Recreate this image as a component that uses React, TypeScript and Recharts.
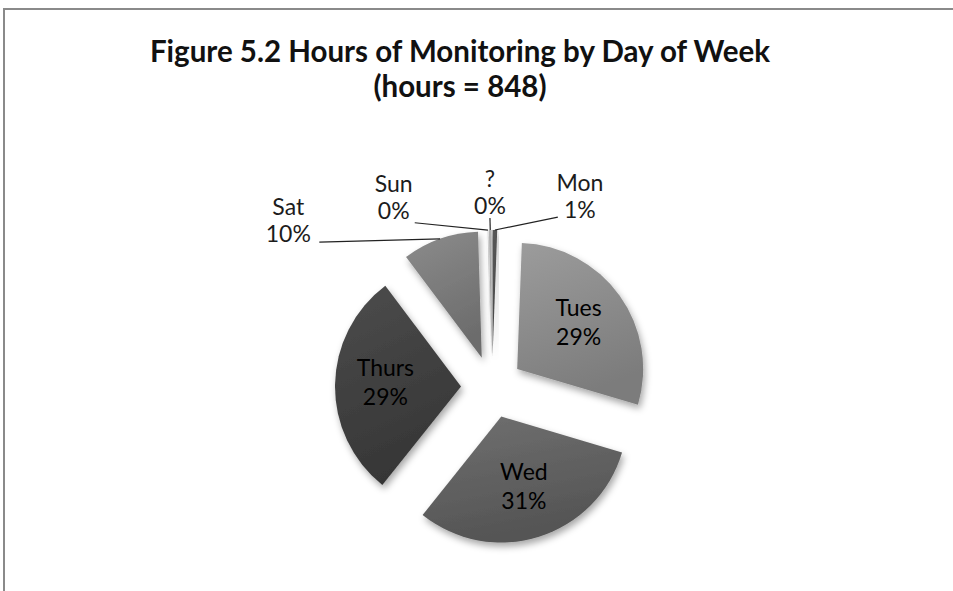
import { PieChart, Pie, Cell, Sector } from 'recharts'

// hours of monitoring per day (total 848), clockwise from 12 o'clock
const DAYS = ['Mon', 'Tues', 'Wed', 'Thurs', 'Sat', 'Sun', '?']
const HOURS = [5, 246, 264, 246, 83, 1, 3]
const TOTAL_HOURS = 848

const TITLE = 'Figure 5.2 Hours of Monitoring by Day of Week'
const SUBTITLE = `(hours = ${TOTAL_HOURS})`

// top / bottom stop of each slice gradient
const SHADES: Record<string, [string, string]> = {
  Mon: ['#5a5a5a', '#444444'],
  Tues: ['#9c9c9c', '#7c7c7c'],
  Wed: ['#707070', '#545454'],
  Thurs: ['#4c4c4c', '#363636'],
  Sat: ['#8c8c8c', '#6c6c6c'],
  Sun: ['#d4d4d4', '#c0c0c0'],
  '?': ['#b4b4b4', '#9a9a9a'],
}

// labels outside the pie: angle clockwise from top, distance from centre, leader hook
const OUTSIDE: Record<string, { angle: number; dist: number; hook: [number, number] }> = {
  Sat: { angle: 309.5, dist: 264, hook: [31, 23] },
  Sun: { angle: 332.8, dist: 215, hook: [21, 27] },
  '?': { angle: -0.6, dist: 196, hook: [0, 27] },
  Mon: { angle: 24.6, dist: 211, hook: [-22, 22] },
}

const data = DAYS.map((d, i) => ({ name: d, hours: HOURS[i] }))

const CX = 487
const CY = 382
const R = 126
const EXPLODE = 31
const RAD = Math.PI / 180
const FONT = 'Lato, "Open Sans", sans-serif'
const TEXT = '#1c1c1c'

const shift = (mid: number, d: number) => ({
  x: d * Math.cos(-mid * RAD),
  y: d * Math.sin(-mid * RAD),
})

function ExplodedSlice(props: any) {
  const mid = (props.startAngle + props.endAngle) / 2
  const o = shift(mid, EXPLODE)
  return (
    <Sector
      {...props}
      cx={props.cx + o.x}
      cy={props.cy + o.y}
      stroke="none"
      filter="url(#sliceShadow)"
    />
  )
}

function SliceLabel(props: any) {
  const { cx, cy, name, percent } = props
  const mid = props.midAngle ?? (props.startAngle + props.endAngle) / 2
  const pct = `${Math.round(percent * 100)}%`
  const o = shift(mid, EXPLODE)
  const out = OUTSIDE[name]

  if (!out) {
    const p = shift(mid, EXPLODE + R * 0.6)
    const x = cx + p.x
    const y = cy + p.y
    return (
      <text x={x} y={y} textAnchor="middle" fill="#000" stroke="none" fontFamily={FONT} fontSize={23}>
        <tspan x={x} y={y - 18} dominantBaseline="central">{name}</tspan>
        <tspan x={x} y={y + 11} dominantBaseline="central">{pct}</tspan>
      </text>
    )
  }

  const lx = cx + out.dist * Math.sin(out.angle * RAD)
  const ly = cy - out.dist * Math.cos(out.angle * RAD)
  const edge = shift(mid, R)
  return (
    <g>
      <line
        x1={lx + out.hook[0]}
        y1={ly + out.hook[1]}
        x2={cx + o.x + edge.x}
        y2={cy + o.y + edge.y}
        stroke="#222"
        strokeWidth={1.2}
      />
      <text x={lx} y={ly} textAnchor="middle" fill={TEXT} stroke="none" fontFamily={FONT} fontSize={23}>
        <tspan x={lx} y={ly - 13} dominantBaseline="central">{name}</tspan>
        <tspan x={lx} y={ly + 14} dominantBaseline="central">{pct}</tspan>
      </text>
    </g>
  )
}

export default function App() {
  return (
    <div
      style={{
        position: 'absolute',
        left: 0,
        top: 0,
        width: 953,
        height: 591,
        overflow: 'hidden',
        background: '#fff',
      }}
    >
      <div
        style={{
          position: 'absolute',
          left: 3,
          top: 8,
          width: 980,
          height: 620,
          border: '2px solid #8a8a8a',
        }}
      />
      <div
        style={{
          position: 'absolute',
          left: 0,
          top: 33,
          width: 920,
          textAlign: 'center',
          fontFamily: FONT,
          fontWeight: 700,
          fontSize: 29.5,
          lineHeight: '35px',
          color: '#111',
          whiteSpace: 'nowrap',
        }}
      >
        <div>{TITLE}</div>
        <div>{SUBTITLE}</div>
      </div>
      <div style={{ position: 'absolute', left: 0, top: 0 }}>
        <PieChart width={953} height={591}>
          <defs>
            {DAYS.map((d, i) => (
              <linearGradient key={d} id={`grad${i}`} x1="0" y1="0" x2="0.3" y2="1">
                <stop offset="0%" stopColor={SHADES[d][0]} />
                <stop offset="100%" stopColor={SHADES[d][1]} />
              </linearGradient>
            ))}
            <filter id="sliceShadow" x="-20%" y="-20%" width="150%" height="150%">
              <feDropShadow dx="2" dy="4" stdDeviation="3.5" floodColor="#000" floodOpacity="0.35" />
            </filter>
          </defs>
          <Pie
            data={data}
            dataKey="hours"
            nameKey="name"
            cx={CX}
            cy={CY}
            outerRadius={R}
            startAngle={90}
            endAngle={-270}
            shape={ExplodedSlice}
            label={SliceLabel}
            labelLine={false}
            isAnimationActive={false}
          >
            {data.map((d, i) => (
              <Cell key={d.name} fill={`url(#grad${i})`} />
            ))}
          </Pie>
        </PieChart>
      </div>
    </div>
  )
}
